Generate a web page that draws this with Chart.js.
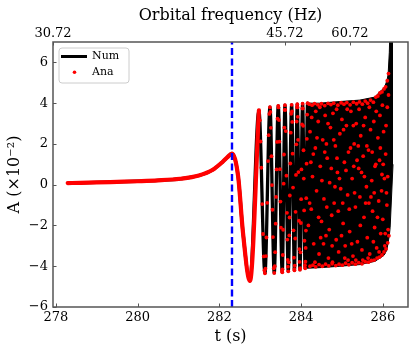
<!DOCTYPE html>
<html><head><meta charset="utf-8">
<script src="https://cdn.jsdelivr.net/npm/chart.js@4"></script>
<style>html,body{margin:0;padding:0;background:#fff}#wrap{width:416px;height:354px}</style>
</head><body><div id="wrap"><canvas id="c" width="416" height="354"></canvas></div>
<script>
// ---- axis ticks ----
const xTicks = [278, 280, 282, 284, 286];
const yTicks = [-6, -4, -2, 0, 2, 4, 6];
const topTickT = [277.93, 283.606, 285.197];
const topTickLabels = ['30.72', '45.72', '60.72'];
const markerT = [282.31];

// ---- Num: smooth inspiral + resolved oscillation extremes ----
const earlyT = [278.29, 278.6, 279.0, 279.5, 280.0, 280.5, 281.04, 281.5, 281.84, 282.09, 282.2, 282.31, 282.46, 282.58, 282.749, 282.969];
const earlyA = [0.08, 0.09, 0.11, 0.14, 0.17, 0.21, 0.29, 0.45, 0.73, 1.14, 1.35, 1.53, 0.41, -2.37, -4.72, 3.65];
const osciT = [283.116, 283.239, 283.344, 283.442, 283.540, 283.606, 283.687, 283.770, 283.838, 283.907, 283.973, 284.038, 284.100, 284.160, 284.218];
const osciA = [-4.35, 3.8, -4.33, 3.87, -4.3, 3.9, -4.25, 3.92, -4.2, 3.95, -4.17, 3.97, -4.1, 4.0, -4.05];

// ---- Num: unresolved dense band (envelope) ----
const bandT = [284.12, 284.46, 284.95, 285.44, 285.81, 285.93, 286.01, 286.05, 286.10, 286.13, 286.16, 286.18, 286.25];
const bandUpper = [4.0, 4.0, 4.08, 4.15, 4.3, 4.57, 4.7, 4.82, 5.1, 5.4, 6.5, 8, 8];
const bandLower = [-4.1, -4.07, -4.0, -3.92, -3.76, -3.6, -3.5, -3.4, -3.2, -2.85, -2.5, -2.1, 1.0];

// ---- Ana: dots on resolved strands ----
const anaStrandT = [
  282.991, 283.028, 283.050, 283.087, 283.010, 283.069, 283.104,
  283.128, 283.153, 283.192, 283.224, 283.141, 283.171, 283.207,
  283.262, 283.289, 283.313, 283.334, 283.250, 283.277, 283.300,
  283.356, 283.379, 283.401, 283.425, 283.366, 283.390, 283.413,
  283.460, 283.483, 283.507, 283.534, 283.448, 283.471, 283.496,
  283.545, 283.562, 283.574, 283.591, 283.553, 283.582, 283.599,
  283.626, 283.642, 283.664, 283.679, 283.614, 283.655, 283.674,
  283.699, 283.719, 283.737, 283.758, 283.712, 283.726, 283.748,
  283.784, 283.804, 283.816, 283.835, 283.778, 283.794, 283.826,
  283.845, 283.857, 283.876, 283.893, 283.866, 283.885, 283.901,
  283.918, 283.936, 283.949, 283.964, 283.912, 283.927, 283.958,
  283.977, 283.996, 284.010, 284.024, 283.986, 284.002, 284.032,
  284.052, 284.067, 284.084, 284.095, 284.044, 284.060, 284.075,
  284.107, 284.119, 284.135, 284.150, 284.113, 284.127, 284.142,
  283.116, 283.239, 283.344, 283.442, 283.540, 283.606, 283.687, 283.770, 283.838, 283.907, 283.973, 284.038, 284.100, 284.160];
const anaStrandA = [
  3.16, 0.83, -0.95, -3.52, 2.12, -2.42, -4.21,
  -4.12, -2.59, 1.16, 3.47, -3.50, -0.89, 2.43,
  2.79, -0.02, -2.57, -4.10, 3.57, 1.40, -1.23,
  -4.00, -1.91, 0.75, 3.24, -3.31, -0.60, 2.10,
  3.17, 0.76, -2.11, -4.22, 3.79, 2.11, -0.83,
  -4.15, -2.21, 0.05, 2.80, -3.45, 1.48, 3.67,
  2.63, 0.44, -2.69, -4.02, 3.67, -1.38, -3.69,
  -3.81, -1.61, 1.04, 3.48, -2.49, -0.53, 2.55,
  3.08, -0.14, -2.24, -4.14, 3.60, 1.52, -3.58,
  -3.97, -2.64, 0.48, 3.10, -1.33, 1.98, 3.80,
  3.33, 0.62, -1.77, -3.79, 3.80, 2.20, -3.16,
  -4.09, -1.88, 0.75, 2.96, -3.32, -0.71, 3.74,
  2.89, 0.30, -2.75, -3.95, 3.74, 1.69, -1.26,
  -3.78, -2.25, 1.03, 3.44, -3.10, -0.66, 2.25,
  -4.35, 3.8, -4.33, 3.87, -4.3, 3.9, -4.25, 3.92, -4.2, 3.95, -4.17, 3.97, -4.1, 4.0];

// ---- Ana: dots in the dense band ----
const anaBandT = [
  284.20, 284.27, 284.33, 284.41, 284.50, 284.58, 284.66, 284.73, 284.80, 284.90, 284.98, 285.05, 285.12, 285.20, 285.28,
  285.36, 285.43, 285.50, 285.57, 285.63, 285.70, 285.77, 285.83, 285.88, 285.93, 285.98, 286.03, 286.07, 286.11, 286.14,
  284.22, 284.29, 284.36, 284.44, 284.52, 284.60, 284.68, 284.76, 284.85, 284.93, 285.01, 285.09, 285.17, 285.25, 285.33,
  285.41, 285.49, 285.57, 285.65, 285.72, 285.79, 285.86, 285.92, 285.98, 286.03, 286.08, 286.12, 286.15,
  284.22, 284.25, 284.28, 284.31, 284.35, 284.38, 284.42, 284.44, 284.47, 284.50, 284.53, 284.56, 284.59, 284.61, 284.64,
  284.67, 284.70, 284.72, 284.75, 284.78, 284.81, 284.84, 284.86, 284.89, 284.92, 284.95, 284.97, 285.00, 285.03, 285.06,
  285.08, 285.11, 285.14, 285.16, 285.19, 285.22, 285.25, 285.27, 285.30, 285.33, 285.35, 285.38, 285.41, 285.44, 285.46,
  285.49, 285.52, 285.54, 285.57, 285.60, 285.62, 285.65, 285.68, 285.70, 285.73, 285.75, 285.78, 285.80, 285.83, 285.85,
  285.88, 285.90, 285.93, 285.95, 285.98, 286.00, 286.02, 286.05, 286.07, 286.09, 286.11, 286.13, 286.14,
  284.18, 284.24, 284.36, 284.48, 284.62, 284.76, 284.88, 285.02, 285.15, 285.29, 285.40, 285.55, 285.66, 285.79, 285.92, 286.04,
  284.21, 284.26, 284.30, 284.34, 284.39, 284.43, 284.46, 284.51, 284.55, 284.58, 284.63, 284.66, 284.69, 284.74, 284.77,
  284.80, 284.83, 284.87, 284.91, 284.94, 284.99, 285.04, 285.07, 285.10, 285.13, 285.18, 285.21, 285.24, 285.28, 285.31,
  285.34, 285.37, 285.42, 285.45, 285.48, 285.51, 285.53, 285.58, 285.61, 285.64, 285.67, 285.71, 285.74, 285.77, 285.81,
  285.84, 285.87, 285.91, 285.94, 285.97, 285.99, 286.01, 286.06, 286.08, 286.10, 286.12];
const anaBandA = [
  3.95, 3.9, 3.98, 3.92, 3.97, 3.88, 3.99, 3.93, 4.0, 3.9, 4.02, 3.95, 4.03, 3.92, 4.05,
  3.97, 4.06, 3.95, 4.1, 4.0, 4.15, 4.05, 4.3, 4.35, 4.5, 4.55, 4.7, 4.8, 5.1, 5.45,
  -4.0, -3.95, -4.03, -3.92, -4.0, -3.9, -3.98, -3.88, -3.97, -3.9, -3.95, -3.85, -3.93, -3.83, -3.9,
  -3.82, -3.88, -3.78, -3.8, -3.72, -3.7, -3.6, -3.55, -3.45, -3.3, -3.15, -2.85, -2.5,
  2.6, -1.2, 0.4, -2.9, 1.8, -0.3, 3.1, -3.4, 0.9, -1.8, 2.2, -0.7, 3.4, -2.5, 1.3,
  -3.6, 0.1, 2.8, -1.5, 3.5, -0.9, 1.9, -2.7, 0.6, -3.3, 2.5, -0.2, 3.2, -1.9, 1.1,
  -3.0, 2.9, -0.5, 1.6, -2.3, 3.6, 0.3, -3.5, 2.0, -1.1, 3.0, -2.8, 0.8, -0.6, 2.4,
  -3.2, 1.4, -1.6, 3.3, -0.1, -2.6, 1.7, -3.4, 2.7, 0.2, -1.3, 3.1, -2.1, 1.0, -3.1,
  2.3, -0.8, 3.4, -2.4, 0.5, -1.7, 2.6, -3.0, 1.5, -0.4, 3.8, -2.2, 4.4,
  -2.0, 1.1, 3.6, -2.6, 2.0, -3.0, 1.3, -0.9, -3.7, 0.9, 1.9, 0.4, -0.9, -0.4, 1.2, 0.3,
  -0.9, 3.3, 1.5, -3.8, 2.3, -1.6, 3.8, 0.2, -2.9, 1.6, -1.1, 3.0, -2.2, 0.8, -3.8,
  2.2, -0.1, 3.7, -1.3, 0.3, -2.5, 2.7, -3.6, 0.7, 3.7, -1.2, 1.8, -2.9, 2.9, -0.4,
  -3.7, 1.2, 3.7, -2.0, 0.6, -3.7, 2.9, -0.9, 1.9, -3.6, 3.8, -0.6, 1.6, -2.8, 0.9,
  3.6, -1.6, -3.3, 1.8, -0.3, 3.9, 1.0, -2.4, 2.9, -1.0, 0.4];

const F = "'DejaVu Serif', serif";
const pts = (t, a) => t.map((v, i) => ({x: v, y: a[i]}));
const fmt = v => (v < 0 ? '\u2212' + Math.abs(v) : String(v));
const xMin = 277.93, xMax = 286.617, yMin = -6, yMax = 7;

const framePlugin = {
  id: 'framePlugin',
  afterDatasetsDraw(chart) {
    const {ctx, chartArea: a, scales} = chart;
    ctx.save();
    // legend
    const lx = 59, ly = 48, lw = 70, lh = 35, r = 3;
    ctx.beginPath();
    ctx.moveTo(lx + r, ly); ctx.lineTo(lx + lw - r, ly); ctx.arcTo(lx + lw, ly, lx + lw, ly + r, r);
    ctx.lineTo(lx + lw, ly + lh - r); ctx.arcTo(lx + lw, ly + lh, lx + lw - r, ly + lh, r);
    ctx.lineTo(lx + r, ly + lh); ctx.arcTo(lx, ly + lh, lx, ly + lh - r, r);
    ctx.lineTo(lx, ly + r); ctx.arcTo(lx, ly, lx + r, ly, r); ctx.closePath();
    ctx.fillStyle = 'rgba(255,255,255,0.85)'; ctx.fill();
    ctx.strokeStyle = '#cccccc'; ctx.lineWidth = 1; ctx.stroke();
    ctx.strokeStyle = '#000'; ctx.lineWidth = 3;
    ctx.beginPath(); ctx.moveTo(61, 56.5); ctx.lineTo(87, 56.5); ctx.stroke();
    ctx.fillStyle = '#ff0000';
    ctx.beginPath(); ctx.arc(74.5, 72.3, 1.8, 0, Math.PI * 2); ctx.fill();
    ctx.fillStyle = '#000'; ctx.font = "11px " + F; ctx.textBaseline = 'middle'; ctx.textAlign = 'left';
    ctx.fillText('Num', 92, 56.5);
    ctx.fillText('Ana', 92, 72.5);
    // frame and inward ticks
    ctx.strokeStyle = '#555'; ctx.lineWidth = 1.5;
    ctx.strokeRect(a.left, a.top, a.right - a.left, a.bottom - a.top);
    ctx.lineWidth = 1;
    ctx.beginPath();
    xTicks.forEach(v => { const p = Math.round(scales.x.getPixelForValue(v)) + 0.5; ctx.moveTo(p, a.bottom); ctx.lineTo(p, a.bottom - 3.5); });
    yTicks.forEach(v => { const p = Math.round(scales.y.getPixelForValue(v)) + 0.5; ctx.moveTo(a.left, p); ctx.lineTo(a.left + 3.5, p); });
    topTickT.forEach(v => { const p = Math.round(scales.x2.getPixelForValue(v)) + 0.5; ctx.moveTo(p, a.top); ctx.lineTo(p, a.top + 3.5); });
    ctx.stroke();
    ctx.restore();
  }
};

new Chart(document.getElementById('c'), {
  type: 'line',
  data: {
    datasets: [
      {label: 'Num', data: pts(earlyT.concat(osciT), earlyA.concat(osciA)), borderColor: '#000', borderWidth: 3.3,
        pointRadius: 0, cubicInterpolationMode: 'monotone', fill: false, order: 4},
      {label: 'Ana', data: pts(anaStrandT.concat(anaBandT), anaStrandA.concat(anaBandA)), showLine: false,
        pointRadius: 1.9, pointBackgroundColor: '#ff0000', pointBorderWidth: 0, borderColor: '#ff0000', order: 1},
      {label: 'band-upper', data: pts(bandT, bandUpper), borderColor: '#000', borderWidth: 1, pointRadius: 0,
        fill: '+1', backgroundColor: '#000', tension: 0, order: 5},
      {label: 'band-lower', data: pts(bandT, bandLower), borderColor: '#000', borderWidth: 1, pointRadius: 0,
        fill: false, tension: 0, order: 5},
      {label: 'Ana-curve', data: pts(earlyT, earlyA), borderColor: '#ff0000', borderWidth: 4.2, pointRadius: 0,
        cubicInterpolationMode: 'monotone', borderCapStyle: 'round', fill: false, order: 2},
      {label: 'marker', data: [{x: markerT[0], y: yMin}, {x: markerT[0], y: yMax}], borderColor: '#0000ff',
        borderWidth: 2.4, borderDash: [7, 3.5], pointRadius: 0, fill: false, order: 0}
    ]
  },
  options: {
    responsive: false, animation: false, devicePixelRatio: 1,
    layout: {padding: {left: 0, right: 8, top: 0, bottom: 0}},
    plugins: {legend: {display: false}, tooltip: {enabled: false}},
    scales: {
      x: {type: 'linear', position: 'bottom', min: xMin, max: xMax,
        afterBuildTicks: s => { s.ticks = xTicks.map(v => ({value: v})); },
        afterFit: s => { s.height = 47; },
        grid: {display: false, drawTicks: false}, border: {display: false},
        ticks: {font: {family: F, size: 13}, color: '#000', padding: 3, maxRotation: 0, autoSkip: false, callback: v => fmt(v)},
        title: {display: true, text: 't (s)', font: {family: F, size: 16}, color: '#000', padding: {top: 0, bottom: 8}}
      },
      x2: {type: 'linear', position: 'top', min: xMin, max: xMax,
        afterBuildTicks: s => { s.ticks = topTickT.map(v => ({value: v})); },
        afterFit: s => { s.height = 42; },
        grid: {display: false, drawTicks: false}, border: {display: false},
        ticks: {font: {family: F, size: 13}, color: '#000', padding: 1, maxRotation: 0, autoSkip: false,
          callback: (v, i) => topTickLabels[i]},
        title: {display: true, text: 'Orbital frequency (Hz)', font: {family: F, size: 16}, color: '#000', padding: {top: 6, bottom: 0}}
      },
      y: {type: 'linear', position: 'left', min: yMin, max: yMax,
        afterBuildTicks: s => { s.ticks = yTicks.map(v => ({value: v})); },
        afterFit: s => { s.width = 53; },
        grid: {display: false, drawTicks: false}, border: {display: false},
        ticks: {font: {family: F, size: 13}, color: '#000', padding: 5, autoSkip: false, callback: v => fmt(v)},
        title: {display: true, text: 'A (\u00d710\u207b\u00b2)', font: {family: F, size: 16}, color: '#000', padding: {top: 5, bottom: 0}}
      }
    }
  },
  plugins: [framePlugin]
});
</script>
</body></html>
